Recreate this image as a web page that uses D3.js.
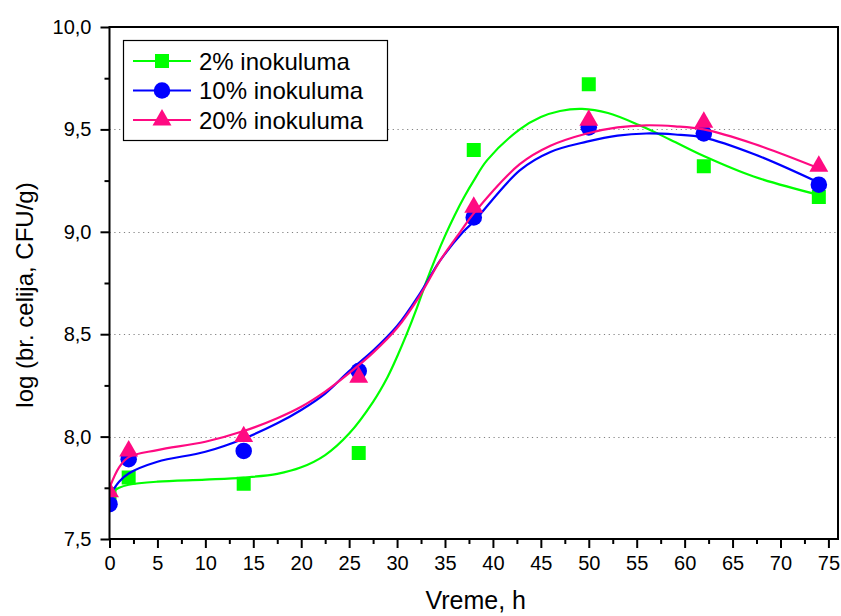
<!DOCTYPE html>
<html>
<head>
<meta charset="utf-8">
<script src="https://cdn.jsdelivr.net/npm/d3@7"></script>
<style>
  html, body { margin: 0; padding: 0; background: #fff; }
  svg { display: block; }
  text { font-family: "Liberation Sans", Arial, sans-serif; fill: #000; }
</style>
</head>
<body>
<svg id="chart" width="841" height="616"></svg>
<script>
// ---- Data ----
const times = [0, 2, 14, 26, 38, 50, 62, 74];
const seriesNames = ["2% inokuluma", "10% inokuluma", "20% inokuluma"];
const values2  = [7.72, 7.80, 7.77, 7.92, 9.40, 9.72, 9.32, 9.17];
const values10 = [7.67, 7.89, 7.93, 8.32, 9.07, 9.51, 9.48, 9.23];
const values20 = [7.73, 7.93, 8.00, 8.29, 9.12, 9.545, 9.535, 9.32];

// fitted curves as drawn in the picture (x, log value)
const fitX2  = [0, 1, 2, 5, 10, 14, 17.5, 20, 22.5, 25, 27.5, 29, 30, 31, 32, 33, 34, 35, 36, 37, 38, 39.4, 42.8, 45, 47, 49.3, 52, 55.3, 58.5, 62, 67.2, 74];
const fitY2  = [7.72, 7.75, 7.765, 7.78, 7.79, 7.80, 7.818, 7.850, 7.910, 8.015, 8.17, 8.29, 8.39, 8.50, 8.62, 8.75, 8.87, 8.98, 9.08, 9.17, 9.25, 9.35, 9.50, 9.56, 9.59, 9.60, 9.58, 9.52, 9.45, 9.37, 9.27, 9.18];
const fitX10 = [0, 1, 2, 5, 10, 14, 17.5, 20, 22.5, 25, 27.5, 30, 32.4, 34.5, 36.9, 38, 42.8, 46, 49.8, 53, 56, 59, 62, 67.2, 74];
const fitY10 = [7.71, 7.78, 7.82, 7.877, 7.926, 7.99, 8.065, 8.13, 8.21, 8.32, 8.42, 8.54, 8.70, 8.86, 9.00, 9.05, 9.30, 9.39, 9.44, 9.47, 9.48, 9.475, 9.46, 9.38, 9.24];
const fitX20 = [0, 1, 2, 5, 10, 14, 17.5, 20, 22.5, 25, 27.5, 30, 32.4, 34.5, 36.6, 38, 42.8, 46, 49.8, 53, 56, 59, 62, 67.2, 74];
const fitY20 = [7.75, 7.85, 7.90, 7.934, 7.975, 8.027, 8.09, 8.146, 8.22, 8.31, 8.41, 8.53, 8.69, 8.86, 9.00, 9.09, 9.33, 9.42, 9.48, 9.51, 9.52, 9.515, 9.50, 9.43, 9.31];

const xTicks = [0, 5, 10, 15, 20, 25, 30, 35, 40, 45, 50, 55, 60, 65, 70, 75];
const yTicks = [7.5, 8.0, 8.5, 9.0, 9.5, 10.0];
const gridValues = [8.0, 8.5, 9.0, 9.5];
const colors = ["#00ff00", "#0000ff", "#ff0a82"];
const xTitle = "Vreme, h";
const yTitle = "log (br. celija, CFU/g)";

// ---- Layout ----
const svg = d3.select("#chart");
const pLeft = 109.5, pRight = 838, pTop = 27, pBottom = 539;
const x = d3.scaleLinear().domain([0, 76]).range([pLeft, pRight]);
const y = d3.scaleLinear().domain([7.5, 10]).range([pBottom, pTop]);

svg.append("defs").append("clipPath").attr("id", "plotClip")
  .append("rect").attr("x", pLeft).attr("y", pTop)
  .attr("width", pRight - pLeft).attr("height", pBottom - pTop);

// gridlines
svg.append("g").selectAll("line").data(gridValues).join("line")
  .attr("x1", pLeft).attr("x2", pRight)
  .attr("y1", d => Math.round(y(d)) + 0.5).attr("y2", d => Math.round(y(d)) + 0.5)
  .attr("stroke", "#808080").attr("stroke-width", 1)
  .attr("stroke-dasharray", "1.2,3.6");

// axes
const fmt = d => d3.format(".1f")(d).replace(".", ",");
const xAxis = d3.axisBottom(x).tickValues(xTicks).tickSize(9).tickPadding(8).tickFormat(d3.format("d"));
const xMinor = d3.axisBottom(x).tickValues(d3.range(2.5, 75, 5)).tickSize(5).tickFormat("");
const yAxis = d3.axisLeft(y).tickValues(yTicks).tickSize(9).tickPadding(9).tickFormat(fmt);
const yMinor = d3.axisLeft(y).tickValues(d3.range(7.75, 10, 0.5)).tickSize(5).tickFormat("");

function styleAxis(g) {
  g.select(".domain").remove();
  g.selectAll(".tick line").attr("stroke", "#000").attr("stroke-width", 2);
  g.selectAll("text").style("font-size", "20px").attr("fill", "#000");
}
svg.append("g").attr("transform", `translate(0,${pBottom})`).call(xAxis).call(styleAxis);
svg.append("g").attr("transform", `translate(0,${pBottom})`).call(xMinor).call(styleAxis);
svg.append("g").attr("transform", `translate(${pLeft},0)`).call(yAxis).call(styleAxis);
svg.append("g").attr("transform", `translate(${pLeft},0)`).call(yMinor).call(styleAxis);

// axis titles
svg.append("text").attr("x", (pLeft + pRight) / 2 + 2).attr("y", 609)
  .attr("text-anchor", "middle").style("font-size", "25px").text(xTitle);
svg.append("text").attr("transform", `translate(33,${(pTop + pBottom) / 2 + 12}) rotate(-90)`)
  .attr("text-anchor", "middle").style("font-size", "24px").text(yTitle);

// series
const fits = [[fitX2, fitY2], [fitX10, fitY10], [fitX20, fitY20]];
const vals = [values2, values10, values20];
const line = d3.line().x(d => x(d[0])).y(d => y(d[1])).curve(d3.curveCatmullRom.alpha(0.5));
const symbols = [d3.symbolSquare, d3.symbolCircle, d3.symbolTriangle];
const symSizes = [196, 215, 155];

const plot = svg.append("g").attr("clip-path", "url(#plotClip)");
seriesNames.forEach((name, i) => {
  const pts = fits[i][0].map((xv, k) => [xv, fits[i][1][k]]);
  plot.append("path").datum(pts).attr("d", line)
    .attr("fill", "none").attr("stroke", colors[i]).attr("stroke-width", 2.2);
  plot.append("g").selectAll("path").data(times.map((t, k) => [t, vals[i][k]])).join("path")
    .attr("transform", d => `translate(${x(d[0])},${y(d[1])})`)
    .attr("d", d3.symbol().type(symbols[i]).size(symSizes[i]))
    .attr("fill", colors[i]);
});

// frame
svg.append("rect").attr("x", pLeft).attr("y", pTop)
  .attr("width", pRight - pLeft).attr("height", pBottom - pTop)
  .attr("fill", "none").attr("stroke", "#000").attr("stroke-width", 2);

// legend
const lg = svg.append("g");
lg.append("rect").attr("x", 123.5).attr("y", 40.5).attr("width", 264).attr("height", 100)
  .attr("fill", "#fff").attr("stroke", "#000").attr("stroke-width", 1.2);
seriesNames.forEach((name, i) => {
  const cy = 61 + i * 29.5;
  lg.append("line").attr("x1", 133).attr("x2", 191).attr("y1", cy).attr("y2", cy)
    .attr("stroke", colors[i]).attr("stroke-width", 2);
  lg.append("path").attr("transform", `translate(162,${cy})`)
    .attr("d", d3.symbol().type(symbols[i]).size(symSizes[i])).attr("fill", colors[i]);
  lg.append("text").attr("x", 199).attr("y", cy).attr("dy", "0.36em")
    .style("font-size", "24px").text(name);
});
</script>
</body>
</html>
